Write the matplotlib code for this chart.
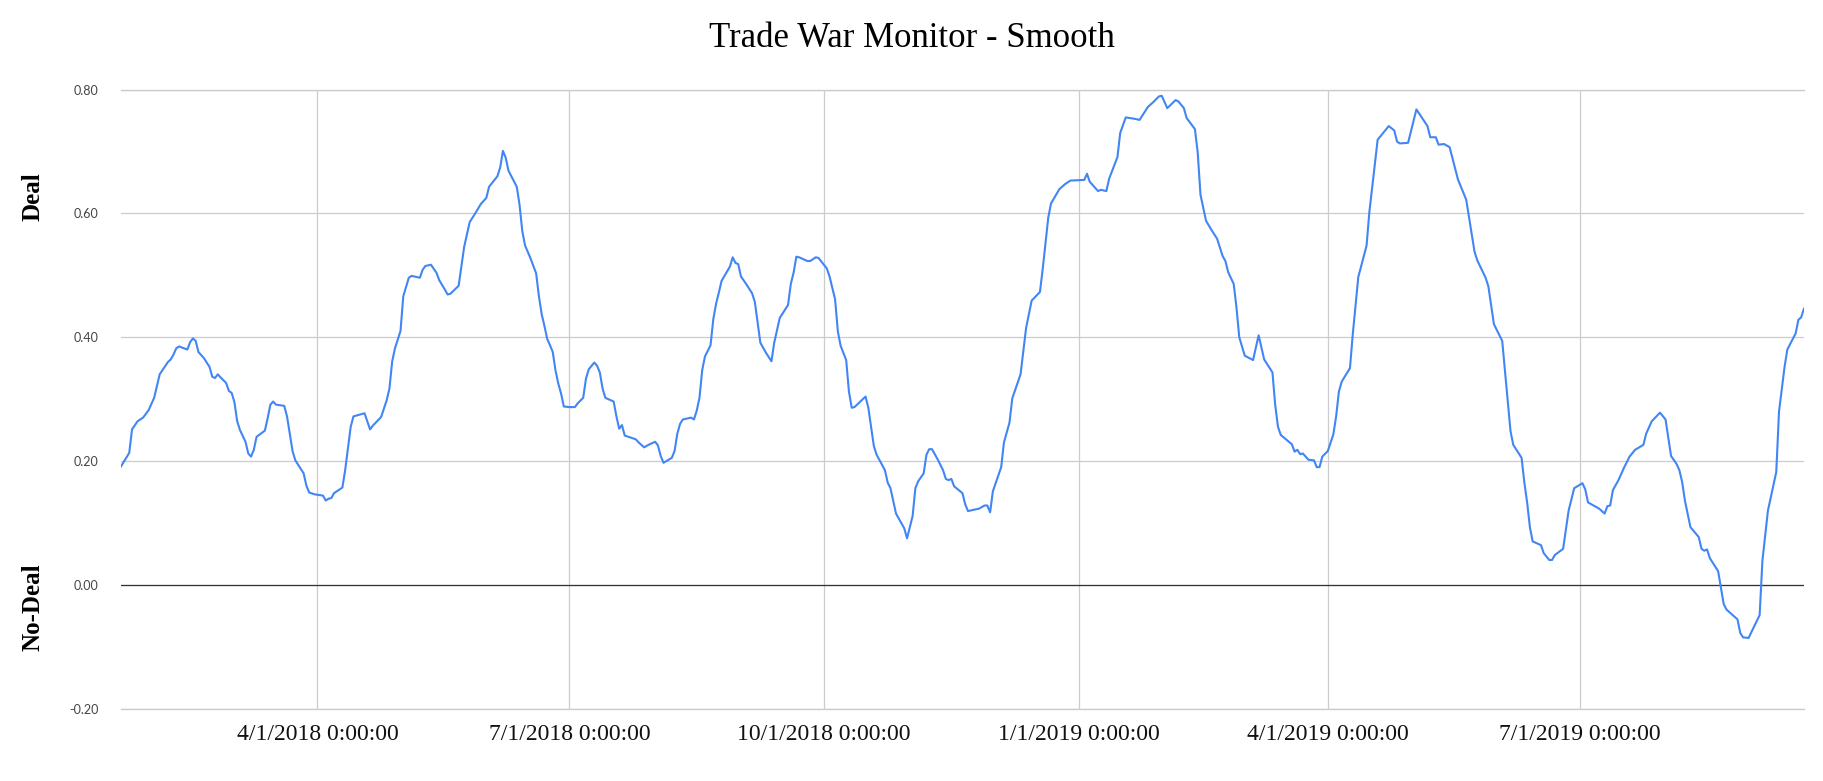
import matplotlib
matplotlib.use('Agg')
import matplotlib.pyplot as plt
import pandas as pd

# Données (indice lissé Deal / No-Deal)
dates_2018 = [
    '01-20', '01-23', '01-24', '01-26', '01-28', '01-30', '02-01', '02-03', '02-06', '02-07',
    '02-08', '02-09', '02-10', '02-13', '02-14', '02-15', '02-16', '02-17', '02-19', '02-21',
    '02-22', '02-23', '02-24', '02-25', '02-27', '02-28', '03-01', '03-02', '03-03', '03-04',
    '03-06', '03-07', '03-08', '03-09', '03-10', '03-13', '03-14', '03-15', '03-16', '03-17',
    '03-20', '03-21', '03-22', '03-23', '03-24', '03-27', '03-28', '03-29', '03-31', '04-03',
    '04-04', '04-05', '04-06', '04-07', '04-10', '04-11', '04-13', '04-14', '04-18', '04-20',
    '04-21', '04-24', '04-26', '04-27', '04-28', '04-29', '05-01', '05-02', '05-04', '05-05',
    '05-08', '05-09', '05-10', '05-12', '05-14', '05-15', '05-17', '05-18', '05-19', '05-22',
    '05-24', '05-26', '05-28', '05-30', '06-01', '06-02', '06-05', '06-06', '06-07', '06-08',
    '06-09', '06-12', '06-13', '06-14', '06-15', '06-17', '06-19', '06-20', '06-21', '06-22',
    '06-23', '06-24', '06-25', '06-26', '06-27', '06-28', '06-29', '07-01', '07-03', '07-04',
    '07-06', '07-07', '07-08', '07-10', '07-11', '07-12', '07-13', '07-14', '07-17', '07-18',
    '07-19', '07-20', '07-21', '07-23', '07-25', '07-26', '07-28', '07-30', '08-01', '08-02',
    '08-03', '08-04', '08-07', '08-08', '08-09', '08-10', '08-11', '08-14', '08-15', '08-16',
    '08-17', '08-18', '08-19', '08-21', '08-22', '08-23', '08-24', '08-25', '08-28', '08-29',
    '08-30', '08-31', '09-01', '09-03', '09-05', '09-06', '09-08', '09-10', '09-12', '09-13',
    '09-15', '09-18', '09-19', '09-20', '09-21', '09-22', '09-25', '09-26', '09-28', '09-29',
    '10-02', '10-03', '10-05', '10-06', '10-07', '10-09', '10-10', '10-11', '10-12', '10-16',
    '10-17', '10-19', '10-20', '10-23', '10-24', '10-25', '10-27', '10-30', '10-31', '11-02',
    '11-03', '11-04', '11-06', '11-07', '11-08', '11-09', '11-11', '11-13', '11-14', '11-15',
    '11-16', '11-17', '11-20', '11-21', '11-22', '11-26', '11-28', '11-29', '11-30', '12-01',
    '12-04', '12-05', '12-07', '12-08', '12-11', '12-13', '12-15', '12-18', '12-19', '12-21',
    '12-22', '12-25', '12-27', '12-29',
]
values_2018 = [
    0.191, 0.213, 0.251, 0.264, 0.270, 0.282, 0.302, 0.340, 0.360, 0.364,
    0.372, 0.382, 0.385, 0.380, 0.392, 0.398, 0.394, 0.376, 0.366, 0.352,
    0.336, 0.334, 0.340, 0.335, 0.326, 0.313, 0.310, 0.295, 0.264, 0.250,
    0.231, 0.212, 0.207, 0.218, 0.239, 0.249, 0.269, 0.291, 0.296, 0.291,
    0.289, 0.272, 0.244, 0.216, 0.201, 0.180, 0.160, 0.149, 0.146, 0.144,
    0.136, 0.139, 0.140, 0.148, 0.157, 0.185, 0.255, 0.272, 0.277, 0.251,
    0.257, 0.271, 0.298, 0.317, 0.361, 0.382, 0.410, 0.466, 0.496, 0.499,
    0.496, 0.509, 0.515, 0.517, 0.504, 0.492, 0.477, 0.469, 0.470, 0.483,
    0.546, 0.586, 0.600, 0.615, 0.625, 0.643, 0.660, 0.674, 0.701, 0.690,
    0.669, 0.643, 0.614, 0.571, 0.548, 0.527, 0.503, 0.466, 0.437, 0.418,
    0.397, 0.387, 0.376, 0.346, 0.325, 0.309, 0.288, 0.287, 0.287, 0.293,
    0.302, 0.333, 0.348, 0.359, 0.354, 0.343, 0.317, 0.302, 0.296, 0.272,
    0.252, 0.258, 0.241, 0.238, 0.235, 0.230, 0.222, 0.227, 0.231, 0.225,
    0.208, 0.197, 0.205, 0.216, 0.244, 0.260, 0.267, 0.270, 0.267, 0.281,
    0.302, 0.347, 0.369, 0.387, 0.429, 0.454, 0.472, 0.491, 0.514, 0.529,
    0.520, 0.518, 0.498, 0.485, 0.471, 0.457, 0.391, 0.375, 0.361, 0.391,
    0.431, 0.452, 0.486, 0.504, 0.530, 0.529, 0.523, 0.523, 0.529, 0.528,
    0.511, 0.498, 0.461, 0.409, 0.386, 0.363, 0.312, 0.286, 0.287, 0.304,
    0.286, 0.224, 0.210, 0.185, 0.165, 0.156, 0.115, 0.091, 0.075, 0.111,
    0.156, 0.167, 0.180, 0.210, 0.219, 0.219, 0.203, 0.185, 0.171, 0.169,
    0.171, 0.159, 0.148, 0.130, 0.119, 0.123, 0.128, 0.128, 0.117, 0.151,
    0.190, 0.230, 0.262, 0.301, 0.340, 0.415, 0.459, 0.473, 0.510, 0.593,
    0.616, 0.639, 0.647, 0.653,
]
dates_2019 = [
    '01-03', '01-04', '01-05', '01-08', '01-09', '01-11', '01-12', '01-15', '01-16', '01-18',
    '01-21', '01-23', '01-26', '01-28', '01-30', '01-31', '02-02', '02-05', '02-06', '02-08',
    '02-09', '02-12', '02-13', '02-14', '02-16', '02-18', '02-20', '02-22', '02-23', '02-24',
    '02-26', '02-27', '02-28', '03-02', '03-05', '03-07', '03-09', '03-12', '03-13', '03-14',
    '03-15', '03-19', '03-20', '03-21', '03-22', '03-23', '03-25', '03-27', '03-28', '03-29',
    '03-30', '04-01', '04-03', '04-04', '04-05', '04-06', '04-09', '04-10', '04-12', '04-15',
    '04-16', '04-18', '04-19', '04-23', '04-25', '04-26', '04-27', '04-30', '05-03', '05-07',
    '05-08', '05-10', '05-11', '05-13', '05-15', '05-18', '05-21', '05-24', '05-25', '05-28',
    '05-29', '05-31', '06-03', '06-06', '06-07', '06-10', '06-11', '06-12', '06-13', '06-14',
    '06-17', '06-18', '06-20', '06-21', '06-22', '06-25', '06-27', '06-29', '07-02', '07-03',
    '07-04', '07-08', '07-10', '07-11', '07-12', '07-13', '07-15', '07-17', '07-19', '07-21',
    '07-24', '07-25', '07-27', '07-30', '08-01', '08-02', '08-03', '08-05', '08-06', '08-07',
    '08-08', '08-10', '08-13', '08-14', '08-15', '08-16', '08-17', '08-20', '08-21', '08-22',
    '08-23', '08-27', '08-28', '08-29', '08-31', '09-04', '09-05', '09-07', '09-10', '09-11',
    '09-13', '09-14', '09-17', '09-18', '09-19', '09-20',
]
values_2019 = [
    0.654, 0.664, 0.651, 0.636, 0.638, 0.636, 0.656, 0.691, 0.730, 0.755,
    0.753, 0.751, 0.772, 0.780, 0.789, 0.790, 0.770, 0.783, 0.781, 0.770,
    0.754, 0.736, 0.698, 0.630, 0.588, 0.573, 0.559, 0.531, 0.523, 0.505,
    0.486, 0.448, 0.400, 0.370, 0.363, 0.403, 0.364, 0.343, 0.290, 0.255,
    0.242, 0.227, 0.215, 0.218, 0.211, 0.212, 0.202, 0.201, 0.190, 0.190,
    0.207, 0.216, 0.243, 0.272, 0.312, 0.328, 0.350, 0.404, 0.497, 0.548,
    0.602, 0.679, 0.719, 0.741, 0.734, 0.716, 0.713, 0.714, 0.768, 0.741,
    0.723, 0.723, 0.711, 0.712, 0.707, 0.655, 0.622, 0.538, 0.524, 0.496,
    0.482, 0.421, 0.394, 0.248, 0.226, 0.205, 0.165, 0.133, 0.093, 0.070,
    0.064, 0.051, 0.040, 0.040, 0.048, 0.058, 0.120, 0.156, 0.164, 0.154,
    0.133, 0.123, 0.115, 0.127, 0.128, 0.153, 0.169, 0.189, 0.207, 0.218,
    0.226, 0.244, 0.264, 0.278, 0.267, 0.238, 0.208, 0.195, 0.185, 0.166,
    0.136, 0.093, 0.077, 0.058, 0.055, 0.057, 0.043, 0.022, -0.004, -0.031,
    -0.040, -0.056, -0.078, -0.085, -0.086, -0.049, 0.039, 0.120, 0.182, 0.280,
    0.352, 0.380, 0.406, 0.428, 0.432, 0.446,
]

quarter_ticks = ['2018-04-01', '2018-07-01', '2018-10-01', '2019-01-01', '2019-04-01', '2019-07-01']
quarter_labels = ['4/1/2018 0:00:00', '7/1/2018 0:00:00', '10/1/2018 0:00:00',
                  '1/1/2019 0:00:00', '4/1/2019 0:00:00', '7/1/2019 0:00:00']
y_ticks = [-0.2, 0.0, 0.2, 0.4, 0.6, 0.8]

assert len(dates_2018) == len(values_2018)
assert len(dates_2019) == len(values_2019)

dates = pd.to_datetime(['2018-' + d for d in dates_2018] + ['2019-' + d for d in dates_2019])
values = values_2018 + values_2019

SERIF = ['Liberation Serif', 'DejaVu Serif']

fig = plt.figure(figsize=(18.24, 7.81), dpi=100)
ax = fig.add_axes([0.0663, 0.0928, 0.9227, 0.7925])

ax.plot(dates, values, color='#4285F4', linewidth=1.5, zorder=3)
ax.axhline(0, color='#333333', linewidth=0.9, zorder=2)
# lignes de bord haut / bas (sinon coupées à moitié)
for yb in (y_ticks[0], y_ticks[-1]):
    ax.axhline(yb, color='#cccccc', linewidth=1.0, zorder=1, clip_on=False)

ax.set_xlim(dates[0], dates[-1])
ax.set_ylim(-0.2, 0.8)

ax.set_xticks(pd.to_datetime(quarter_ticks))
ax.set_xticklabels(quarter_labels, fontsize=17, family=SERIF, color='#111111')
ax.set_yticks(y_ticks)
ax.set_yticklabels([f'{v:.2f}' for v in y_ticks], fontsize=9, family=['Lato', 'DejaVu Sans'],
                   color='#444444')
ax.tick_params(axis='x', length=0, pad=11)
ax.tick_params(axis='y', length=0, pad=16)

ax.grid(True, color='#cccccc', linewidth=0.9, zorder=0)
ax.set_axisbelow(True)
for s in ax.spines.values():
    s.set_visible(False)

fig.suptitle('Trade War Monitor - Smooth', fontsize=25, family=SERIF, y=0.951, va='center')
fig.text(0.018, 0.748, 'Deal', rotation=90, ha='center', va='center',
         fontsize=18, fontweight='bold', family=SERIF)
fig.text(0.018, 0.223, 'No-Deal', rotation=90, ha='center', va='center',
         fontsize=18, fontweight='bold', family=SERIF)

fig.savefig('out.png', dpi=100, facecolor='white')
